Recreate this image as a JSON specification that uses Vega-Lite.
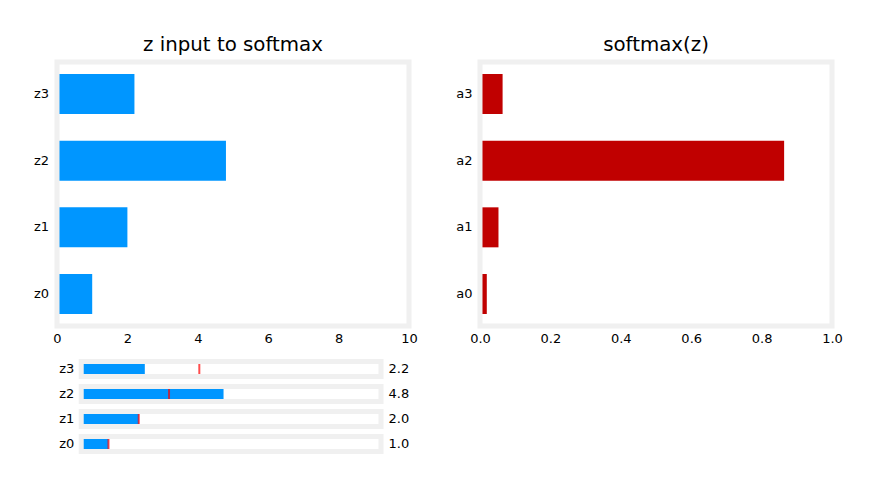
{
  "$schema": "https://vega.github.io/schema/vega-lite/v6.json",
  "padding": {"left": 33, "top": 35, "right": 5, "bottom": 5},
  "background": "white",
  "datasets": {
    "vals": [
      {"z": "z0", "a": "a0", "zval": 1.0, "softmax": 0.0193, "init": 1},
      {"z": "z1", "a": "a1", "zval": 2.0, "softmax": 0.0525, "init": 2},
      {"z": "z2", "a": "a2", "zval": 4.8, "softmax": 0.864, "init": 3},
      {"z": "z3", "a": "a3", "zval": 2.2, "softmax": 0.0642, "init": 4}
    ]
  },
  "bounds": "flush",
  "columns": 2,
  "spacing": {"row": 30.5, "column": 71},
  "concat": [
    {
      "width": 352,
      "height": 264,
      "title": {"text": "z input to softmax"},
      "data": {"name": "vals"},
      "layer": [
        {
          "mark": {"type": "bar", "color": "#0096ff"},
          "encoding": {
            "y": {"field": "z", "type": "nominal", "sort": ["z3", "z2", "z1", "z0"],
                  "scale": {"paddingInner": 0.4, "paddingOuter": 0.18},
                  "axis": {"title": null, "labelPadding": 8.5}},
            "x": {"field": "zval", "type": "quantitative", "scale": {"domain": [0, 10], "nice": false},
                  "axis": {"title": null, "values": [0, 2, 4, 6, 8, 10], "labelPadding": 6}}
          }
        },
        {
          "data": {"values": [{}]},
          "mark": {"type": "rect", "fill": "transparent", "stroke": "#f0f0f0", "strokeWidth": 5},
          "encoding": {"x": {"datum": 0}, "x2": {"datum": 10}}
        }
      ]
    },
    {
      "width": 352,
      "height": 264,
      "title": {"text": "softmax(z)"},
      "data": {"name": "vals"},
      "layer": [
        {
          "mark": {"type": "bar", "color": "#c00000"},
          "encoding": {
            "y": {"field": "a", "type": "nominal", "sort": ["a3", "a2", "a1", "a0"],
                  "scale": {"paddingInner": 0.4, "paddingOuter": 0.18},
                  "axis": {"title": null, "labelPadding": 8}},
            "x": {"field": "softmax", "type": "quantitative", "scale": {"domain": [0, 1], "nice": false},
                  "axis": {"title": null, "values": [0, 0.2, 0.4, 0.6, 0.8, 1.0], "format": ".1f", "labelPadding": 6}}
          }
        },
        {
          "data": {"values": [{}]},
          "mark": {"type": "rect", "fill": "transparent", "stroke": "#f0f0f0", "strokeWidth": 5},
          "encoding": {"x": {"datum": 0}, "x2": {"datum": 1}}
        }
      ]
    },
    {
      "width": 324,
      "height": 100,
      "data": {"name": "vals"},
      "encoding": {
        "y": {"field": "z", "type": "nominal", "sort": ["z3", "z2", "z1", "z0"],
              "scale": {"paddingInner": 0, "paddingOuter": 0},
              "axis": {"title": null, "labelPadding": -16.8}}
      },
      "layer": [
        {
          "mark": {"type": "bar", "color": "#0096ff", "size": 10},
          "encoding": {
            "x": {"field": "zval", "type": "quantitative", "scale": {"domain": [-0.7, 10], "nice": false, "zero": false}, "axis": null},
            "x2": {"datum": 0.1}
          }
        },
        {
          "mark": {"type": "tick", "color": "#ff0000", "orient": "vertical", "size": 10, "thickness": 2},
          "encoding": {"x": {"field": "init", "type": "quantitative"}}
        },
        {
          "mark": {"type": "bar", "size": 15, "fill": "transparent", "stroke": "#f0f0f0", "strokeWidth": 5},
          "encoding": {"x": {"datum": 0.1}, "x2": {"datum": 10}}
        },
        {
          "mark": {"type": "text", "align": "left", "baseline": "middle", "dx": 7.6, "font": "DejaVu Sans", "fontSize": 13, "color": "black"},
          "encoding": {"x": {"datum": 10}, "text": {"field": "zval", "type": "quantitative", "format": ".1f"}}
        }
      ]
    }
  ],
  "config": {
    "view": {"stroke": null},
    "axis": {
      "domain": false, "ticks": false, "tickSize": 0, "grid": false,
      "labelFont": "DejaVu Sans", "labelFontSize": 13, "labelColor": "black",
      "labelFlush": false, "labelOverlap": false
    },
    "title": {"font": "DejaVu Sans", "fontSize": 19.8, "fontWeight": "normal", "color": "black",
              "baseline": "alphabetic", "offset": 4.5, "anchor": "middle"}
  }
}
